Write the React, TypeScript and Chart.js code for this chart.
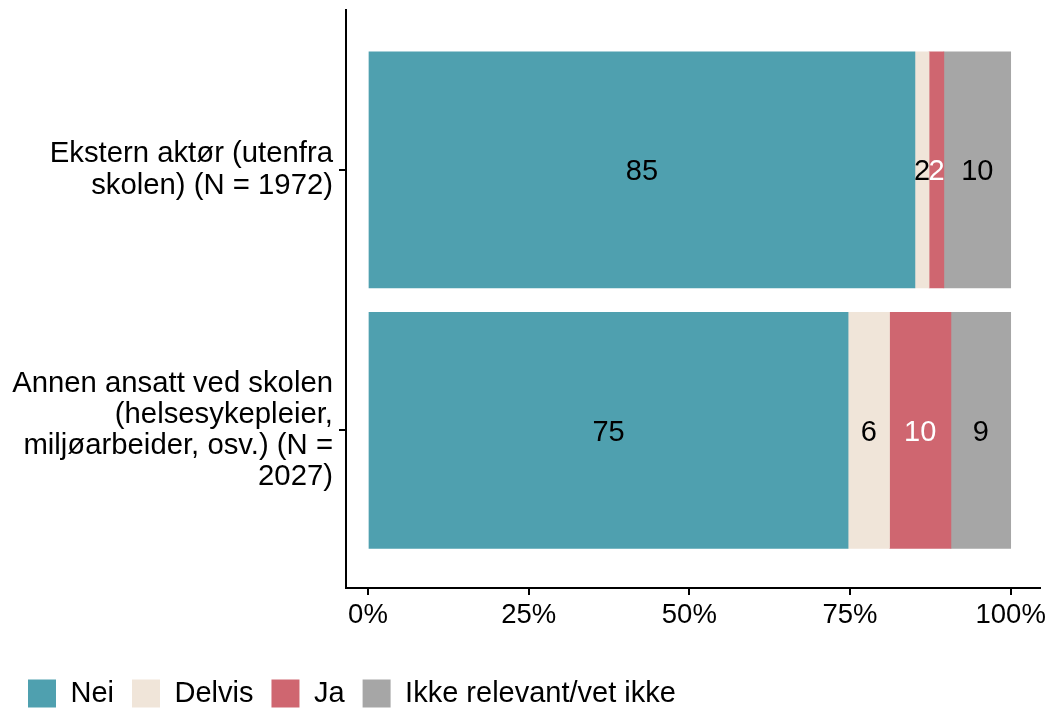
import React, { useEffect, useRef } from "react";
import { Chart, registerables } from "chart.js";

Chart.register(...registerables);

const categories: string[][] = [
  ["Ekstern aktør (utenfra", "skolen) (N = 1972)"],
  ["Annen ansatt ved skolen", "(helsesykepleier,", "miljøarbeider, osv.) (N =", "2027)"],
];
const seriesNames = ["Nei", "Delvis", "Ja", "Ikke relevant/vet ikke"];
const nei = [85.1, 74.7];
const delvis = [2.2, 6.45];
const ja = [2.3, 9.55];
const ikke = [10.4, 9.3];
const xTicks = [0, 25, 50, 75, 100];

const colors = ["#4FA0AF", "#F0E5D9", "#CF6670", "#A6A6A6"];
const labelColors = ["#000000", "#000000", "#FFFFFF", "#000000"];
const FAMILY = "'Liberation Sans', Arial, Helvetica, sans-serif";

const series = [nei, delvis, ja, ikke];

const valueLabels = {
  id: "valueLabels",
  afterDatasetsDraw(chart: any) {
    const ctx = chart.ctx;
    ctx.save();
    ctx.font = `29px ${FAMILY}`;
    ctx.textAlign = "center";
    ctx.textBaseline = "middle";
    chart.data.datasets.forEach((ds: any, di: number) => {
      const meta = chart.getDatasetMeta(di);
      meta.data.forEach((el: any, i: number) => {
        const p = el.getProps(["x", "base", "y"], true);
        const v = series[di][i];
        ctx.fillStyle = labelColors[di];
        ctx.fillText(String(Math.round(v)), (p.x + p.base) / 2, p.y + 2.5);
      });
    });
    ctx.restore();
  },
};

export default function App() {
  const ref = useRef<HTMLCanvasElement | null>(null);
  useEffect(() => {
    if (!ref.current) return;
    const n = categories.length;
    const chart = new Chart(ref.current, {
      type: "bar",
      data: {
        datasets: seriesNames.map((name, di) => ({
          label: name,
          data: series[di].map((v, i) => ({ x: v, y: n - 1 - i })),
          backgroundColor: colors[di],
          borderWidth: 0,
          barThickness: 236,
        })),
      },
      options: {
        indexAxis: "y",
        responsive: false,
        animation: false,
        devicePixelRatio: 1,
        layout: { padding: { left: 10, top: 10, right: 11, bottom: 0 } },
        scales: {
          x: {
            type: "linear",
            stacked: true,
            min: -3.42,
            max: 104.56,
            afterBuildTicks: (s: any) => {
              s.ticks = xTicks.map((v) => ({ value: v }));
            },
            afterFit: (s: any) => {
              s.height = 73;
              s.paddingLeft = 0;
              s.paddingRight = 0;
            },
            ticks: {
              callback: (v: any) => `${v}%`,
              color: "#000000",
              font: { family: FAMILY, size: 27.5 },
              padding: 4,
              maxRotation: 0,
            },
            grid: {
              drawOnChartArea: false,
              drawTicks: true,
              tickLength: 7,
              color: "#000000",
              lineWidth: 2,
            },
            border: { display: true, color: "#000000", width: 2 },
          },
          y: {
            type: "linear",
            stacked: true,
            offset: false,
            min: -0.605,
            max: 1.614,
            afterBuildTicks: (s: any) => {
              s.ticks = categories
                .map((_, i) => ({ value: n - 1 - i }))
                .sort((a, b) => a.value - b.value);
            },
            afterFit: (s: any) => {
              s.width = 336;
              s.paddingTop = 0;
              s.paddingBottom = 0;
            },
            ticks: {
              autoSkip: false,
              callback: (v: any) => {
                const idx = n - 1 - Math.round(Number(v));
                return categories[idx] ?? "";
              },
              color: "#000000",
              font: { family: FAMILY, size: 29.3, lineHeight: 1.06 },
              padding: 6,
            },
            grid: {
              offset: false,
              drawOnChartArea: false,
              drawTicks: true,
              tickLength: 7,
              color: "#000000",
              lineWidth: 2,
            },
            border: { display: true, color: "#000000", width: 2 },
          },
        },
        plugins: {
          legend: {
            display: true,
            position: "bottom",
            align: "start",
            maxHeight: 48,
            labels: {
              boxWidth: 28,
              boxHeight: 28,
              padding: 18,
              color: "#000000",
              font: { family: FAMILY, size: 29 },
            },
          },
          tooltip: { enabled: false },
        },
      },
      plugins: [valueLabels],
    } as any);
    return () => chart.destroy();
  }, []);
  return (
    <div style={{ position: "absolute", left: 0, top: 0, width: 1051, height: 709, background: "#ffffff" }}>
      <canvas ref={ref} width={1051} height={709} style={{ display: "block" }} />
    </div>
  );
}
